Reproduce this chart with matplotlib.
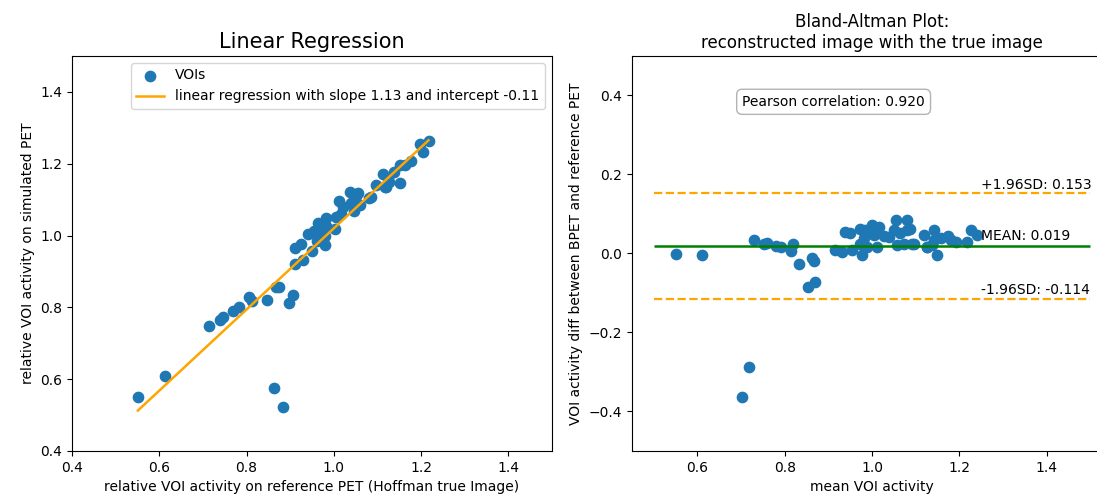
import numpy as np
import matplotlib.pyplot as plt

# Bland-Altman readings: mean of the two activities and (simulated - reference)
mean_act = np.array([
    0.550, 0.611, 0.703, 0.719, 0.730, 0.752, 0.760, 0.780, 0.792, 0.818,
    0.815, 0.833, 0.854, 0.870, 0.862, 0.866,
    0.939, 0.950, 0.916, 0.931, 0.954, 0.973, 0.984, 1.000, 1.015, 0.996,
    0.981, 0.973, 0.989, 0.977, 1.011, 1.004, 1.038, 1.054, 1.050, 1.057,
    1.065, 1.080, 1.080, 1.073, 1.092, 1.119, 1.126, 1.142, 1.142, 1.149,
    1.157, 1.180, 1.192, 1.218, 1.226, 1.240,
    1.086, 1.097, 1.127, 1.138, 1.175, 1.028])
diff_act = np.array([
    -0.002, -0.004, -0.363, -0.287, 0.034, 0.025, 0.026, 0.020, 0.017, 0.024,
    0.007, -0.027, -0.086, -0.071, -0.011, -0.019,
    0.055, 0.051, 0.008, 0.004, 0.008, 0.063, 0.059, 0.072, 0.067, 0.051,
    0.038, 0.025, 0.017, -0.004, 0.017, 0.046, 0.042, 0.084, 0.059, 0.021,
    0.051, 0.084, 0.059, 0.025, 0.025, 0.046, 0.017, 0.059, 0.034, -0.004,
    0.038, 0.034, 0.029, 0.029, 0.059, 0.046,
    0.063, 0.023, 0.016, 0.022, 0.045, 0.045])

# values back in the original space
ref_pet = mean_act - diff_act / 2
sim_pet = mean_act + diff_act / 2

slope = 1.13
intercept = -0.11
md = 0.019
upper_loa = 0.153
lower_loa = -0.114
pearson_r = 0.920

fig = plt.figure(figsize=(10.97, 4.95), dpi=100)
ax1 = fig.add_axes([0.0656, 0.0889, 0.4376, 0.798])
ax2 = fig.add_axes([0.5761, 0.0889, 0.4376, 0.798])

# linear regression
ax1.scatter(ref_pet, sim_pet, s=55, color='tab:blue', label='VOIs')
xl = np.array([ref_pet.min(), ref_pet.max()])
ax1.plot(xl, slope * xl + intercept, color='orange', linewidth=1.8,
         label='linear regression with slope %.2f and intercept %.2f' % (slope, intercept))
ax1.set_xlim(0.4, 1.5)
ax1.set_ylim(0.4, 1.5)
ax1.set_xticks([0.4, 0.6, 0.8, 1.0, 1.2, 1.4])
ax1.set_yticks([0.4, 0.6, 0.8, 1.0, 1.2, 1.4])
ax1.set_xlabel('relative VOI activity on reference PET (Hoffman true Image)')
ax1.set_ylabel('relative VOI activity on simulated PET')
ax1.set_title('Linear Regression', fontsize=15)
ax1.legend(loc='upper right')

# bland-altman
ax2.scatter(mean_act, diff_act, s=55, color='tab:blue')
ax2.hlines(md, 0.5, 1.5, color='green', linewidth=1.8)
ax2.hlines([upper_loa, lower_loa], 0.5, 1.5, color='orange', linewidth=1.6, linestyles='--')
ax2.text(1.25, upper_loa + 0.003, '+1.96SD: %.3f' % upper_loa, va='bottom')
ax2.text(1.25, md + 0.008, 'MEAN: %.3f' % md, va='bottom')
ax2.text(1.25, lower_loa + 0.003, '-1.96SD: %.3f' % lower_loa, va='bottom')
ax2.text(0.42, 0.884, 'Pearson correlation: %.3f' % pearson_r, transform=ax2.transAxes,
         ha='center', va='center',
         bbox=dict(boxstyle='round,pad=0.4', facecolor='white', edgecolor='0.7'))
ax2.set_xlim(0.45, 1.55)
ax2.set_ylim(-0.5, 0.5)
ax2.set_xticks([0.6, 0.8, 1.0, 1.2, 1.4])
ax2.set_yticks([-0.4, -0.2, 0.0, 0.2, 0.4])
ax2.set_xlabel('mean VOI activity')
ax2.set_ylabel('VOI activity diff between BPET and reference PET')
ax2.set_title('Bland-Altman Plot:\nreconstructed image with the true image', fontsize=12)

fig.savefig('out.png', dpi=100)
